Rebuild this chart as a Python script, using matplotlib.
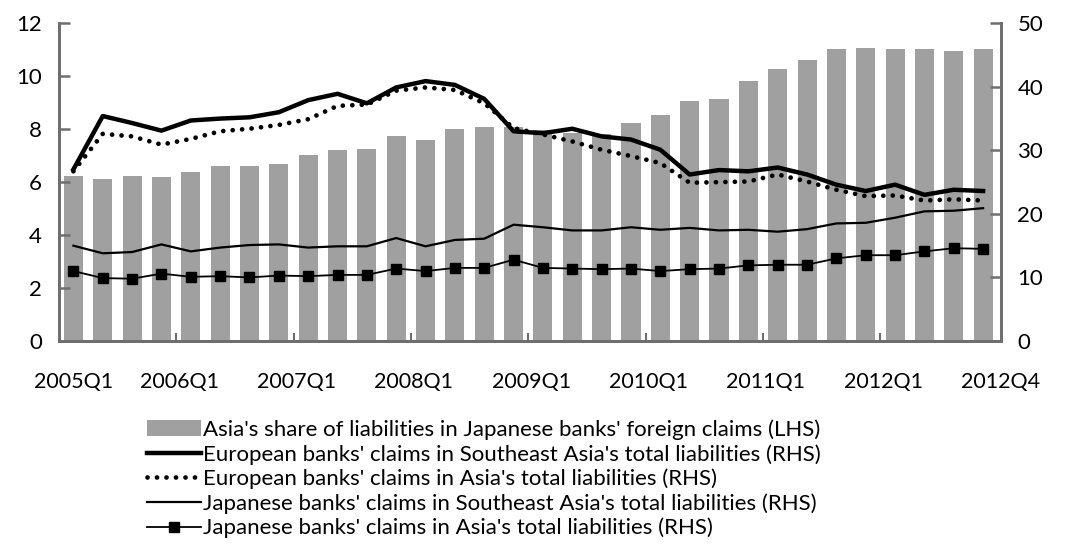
import matplotlib
matplotlib.use("Agg")
import matplotlib.pyplot as plt
import numpy as np

plt.rcParams['font.family'] = ['Lato', 'DejaVu Sans']

# quarters 2005Q1 .. 2012Q4
quarters = [f"{y}Q{q}" for y in range(2005, 2013) for q in range(1, 5)]

# LHS bars: Asia's share of liabilities in Japanese banks' foreign claims
asia_share = [6.24, 6.12, 6.22, 6.19, 6.38, 6.61, 6.60, 6.70, 7.04, 7.20, 7.25, 7.75,
              7.59, 8.00, 8.07, 8.10, 7.95, 7.85, 7.81, 8.25, 8.54, 9.06, 9.13, 9.82,
              10.26, 10.63, 11.03, 11.07, 11.02, 11.03, 10.97, 11.03]

# RHS lines
eu_sea = [27.0, 35.4, 34.3, 33.1, 34.7, 35.0, 35.2, 36.0, 37.9, 38.9, 37.4, 39.9,
          40.9, 40.3, 38.1, 33.0, 32.7, 33.4, 32.2, 31.7, 30.1, 26.2, 26.9, 26.7,
          27.3, 26.2, 24.6, 23.6, 24.6, 23.0, 23.8, 23.6]
eu_asia = [26.7, 32.6, 32.2, 30.9, 31.8, 33.0, 33.4, 34.0, 34.9, 37.0, 37.2, 39.4,
           39.9, 39.5, 37.4, 33.5, 32.5, 31.4, 30.1, 29.1, 28.0, 24.9, 25.0, 25.1,
           26.2, 25.1, 23.8, 22.8, 22.9, 22.1, 22.3, 22.1]
jp_sea = [15.0, 13.8, 14.0, 15.2, 14.1, 14.7, 15.1, 15.2, 14.7, 14.9, 14.9, 16.2,
          14.9, 15.9, 16.1, 18.3, 17.9, 17.4, 17.4, 17.9, 17.5, 17.8, 17.4, 17.5,
          17.2, 17.6, 18.5, 18.6, 19.4, 20.4, 20.5, 20.9]
jp_asia = [11.0, 9.9, 9.8, 10.6, 10.1, 10.2, 10.0, 10.3, 10.2, 10.4, 10.4, 11.4,
           11.0, 11.5, 11.5, 12.8, 11.5, 11.4, 11.3, 11.4, 11.0, 11.3, 11.4, 11.9,
           12.0, 12.0, 13.0, 13.5, 13.5, 14.1, 14.6, 14.5]

x = np.arange(len(quarters))
spine_col = '#6e6e6e'

fig = plt.figure(figsize=(10.68, 5.54), dpi=100)
ax = fig.add_axes([0.055, 0.3845, 0.882, 0.5735])
ax2 = ax.twinx()

bars = ax.bar(x, asia_share, width=0.65, color='#a0a0a0', zorder=1)

l1, = ax2.plot(x, eu_sea, color='black', lw=3.2, solid_joinstyle='round')
l2, = ax2.plot(x, eu_asia, color='black', lw=3.4, linestyle=(0, (0.01, 2.0)),
               dash_capstyle='round')
l3, = ax2.plot(x, jp_sea, color='black', lw=1.6)
l4, = ax2.plot(x, jp_asia, color='black', lw=1.3, marker='s', markersize=6.5)

ax.set_xlim(-0.5, len(quarters) - 0.5)
ax.set_ylim(0, 12)
ax2.set_ylim(0, 50)
ax.set_yticks(range(0, 13, 2))
ax2.set_yticks(range(0, 51, 10))

# year ticks on category boundaries, labels roughly at each year start
ax.set_xticks(np.arange(3.5, 31, 4), minor=True)
lab_pos = [0] + list(np.arange(3.6, 31, 4)) + [31.6]
lab_txt = [quarters[0]] + [quarters[i] for i in range(4, 32, 4)] + [quarters[-1]]
ax.set_xticks(lab_pos)
ax.set_xticklabels(lab_txt)
ax.tick_params(axis='x', which='major', length=0, pad=22, labelsize=15.5)
ax.tick_params(axis='x', which='minor', direction='in', length=6, width=1.5, color=spine_col)
ax.tick_params(axis='y', direction='in', length=8, width=1.8, color=spine_col,
               labelsize=16, pad=12)
ax2.tick_params(axis='y', direction='in', length=8, width=1.8, color=spine_col,
                labelsize=16, pad=12)

for a in (ax, ax2):
    a.spines['top'].set_visible(False)
    for s in ('left', 'right', 'bottom'):
        a.spines[s].set_color(spine_col)
        a.spines[s].set_linewidth(2)

labels = ["Asia's share of liabilities in Japanese banks' foreign claims (LHS)",
          "European banks' claims in Southeast Asia's total liabilities (RHS)",
          "European banks' claims in Asia's total liabilities (RHS)",
          "Japanese banks' claims in Southeast Asia's total liabilities (RHS)",
          "Japanese banks' claims in Asia's total liabilities (RHS)"]
fig.legend([bars, l1, l2, l3, l4], labels, loc='upper left',
           bbox_to_anchor=(0.138, 0.243), frameon=False, fontsize=16,
           handlelength=2.4, handletextpad=0.12, labelspacing=0.18,
           borderaxespad=0, borderpad=0)

fig.savefig('out.png', dpi=100)
